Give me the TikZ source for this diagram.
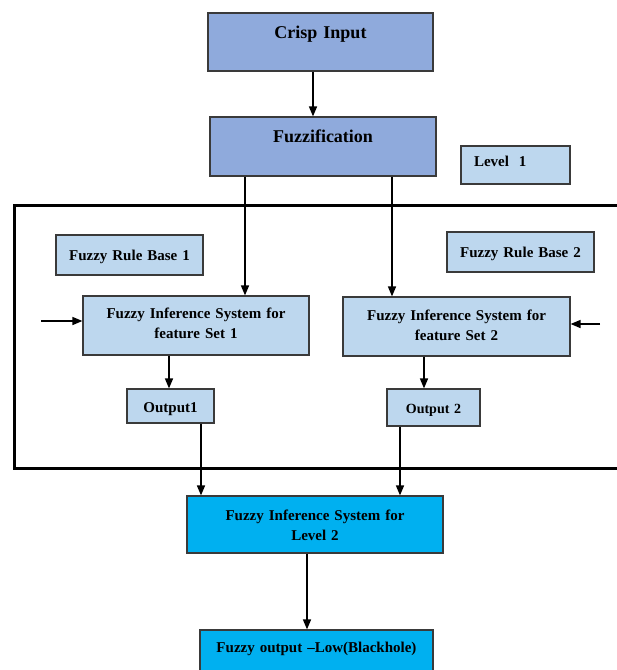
\documentclass[tikz,border=0pt]{standalone}
\usepackage{fontspec}
\setmainfont{Liberation Serif}
\usetikzlibrary{arrows.meta,calc}
\definecolor{midblue}{HTML}{8FAADC}
\definecolor{lightblue}{HTML}{BDD7EE}
\definecolor{cyanbox}{HTML}{00B0F0}
\definecolor{edge}{HTML}{3A3A3A}
\begin{document}
\begin{tikzpicture}[x=1pt,y=-1pt,
  box/.style={draw=edge,line width=1.2pt,inner sep=0pt,align=center,font=\bfseries},
  arr/.style={line width=1.5pt,-{Triangle[length=10pt,width=8pt]}},
  big/.style={font=\fontsize{18}{22}\selectfont\bfseries},
  mid/.style={font=\fontsize{15}{20}\selectfont\bfseries}]
\useasboundingbox (0,0) rectangle (617,670);
% outer frame
\draw[line width=3pt] (14,205) rectangle (640,468);
% nodes
\node[box,big,fill=midblue,text width=225pt,text height=25pt,text depth=33pt] (crisp) at (320.5,42) {Crisp Input};
\node[box,big,fill=midblue,text width=226pt,text height=25pt,text depth=34pt] (fuzz) at (323,146.5) {Fuzzification};
\node[box,mid,fill=lightblue,text width=83pt,inner xsep=13pt,align=left,text height=20pt,text depth=18pt] (lvl) at (515.5,165) {Level~~1};
\node[box,mid,fill=lightblue,text width=147pt,text height=25pt,text depth=15pt] (frb1) at (129.5,255) {Fuzzy Rule Base 1};
\node[box,mid,fill=lightblue,text width=226pt,text height=22pt,text depth=37pt] (fis1) at (196,325.5) {Fuzzy Inference System for\\feature Set 1};
\node[box,mid,fill=lightblue,text width=87pt,text height=23pt,text depth=11pt] (out1) at (170.5,406) {Output1};
\node[box,mid,fill=lightblue,text width=147pt,text height=25pt,text depth=15pt] (frb2) at (520.5,252) {Fuzzy Rule Base 2};
\node[box,mid,fill=lightblue,text width=227pt,text height=23pt,text depth=36pt] (fis2) at (456.5,326.5) {Fuzzy Inference System for\\feature Set 2};
\node[box,font=\fontsize{14}{18}\selectfont\bfseries,fill=lightblue,text width=93pt,text height=24pt,text depth=13pt] (out2) at (433.5,407.5) {Output 2};
\node[box,mid,fill=cyanbox,text width=256pt,text height=24pt,text depth=33pt] (lev2) at (315,524.5) {Fuzzy Inference System for\\Level 2};
\node[box,mid,fill=cyanbox,text width=233pt,text height=22pt,text depth=28pt] (fout) at (316.5,655) {Fuzzy output --Low(Blackhole)};
% free ends
\coordinate (inL) at (41,321);
\coordinate (inR) at (600,324);
% connectors
\draw[arr] ([xshift=-7.5pt]crisp.south) -- ([xshift=-7.5pt]crisp.south |- fuzz.north);
\draw[arr] ([xshift=-78pt]fuzz.south) -- ([xshift=-78pt]fuzz.south |- fis1.north);
\draw[arr] ([xshift=69pt]fuzz.south) -- ([xshift=69pt]fuzz.south |- fis2.north);
\draw[arr] ([xshift=-27pt]fis1.south) -- ([xshift=-27pt]fis1.south |- out1.north);
\draw[arr] ([xshift=-32.5pt]fis2.south) -- ([xshift=-32.5pt]fis2.south |- out2.north);
\draw[arr] ([xshift=30.5pt]out1.south) -- ([xshift=30.5pt]out1.south |- lev2.north);
\draw[arr] ([xshift=-33.5pt]out2.south) -- ([xshift=-33.5pt]out2.south |- lev2.north);
\draw[arr] ([xshift=-8pt]lev2.south) -- ([xshift=-8pt]lev2.south |- fout.north);
\draw[arr] (inL) -- (inL -| fis1.west);
\draw[arr] (inR) -- (inR -| fis2.east);
\end{tikzpicture}
\end{document}
